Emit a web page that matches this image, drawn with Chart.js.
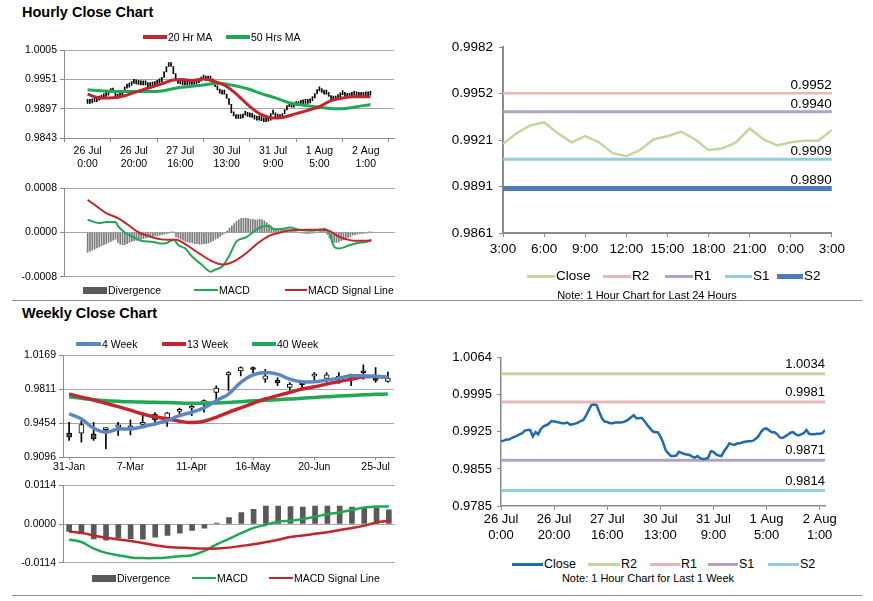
<!DOCTYPE html>
<html>
<head>
<meta charset="utf-8">
<title>Hourly and Weekly Close Charts</title>
<script src="https://cdn.jsdelivr.net/npm/chart.js@4.4.1/dist/chart.umd.min.js"></script>
<style>
  body { margin: 0; background: #fff; }
  #page { position: relative; width: 873px; height: 601px; overflow: hidden; font-family: "Liberation Sans", Arial, sans-serif; color: #000; }
  #page canvas { position: absolute; }
  .title { position: absolute; font-weight: bold; font-size: 14.5px; line-height: 1; }
  .sep { position: absolute; left: 12px; width: 850px; height: 0; border-top: 1.5px solid #8c8c8c; }
  .lg, .note { position: absolute; line-height: 1; white-space: nowrap; }
  .note { transform: translateX(-50%); }
  .sw { position: absolute; }
</style>
</head>
<body>
<div id="page">
  <div class="title" style="left:22px;top:5px">Hourly Close Chart</div>
  <div class="title" style="left:22px;top:306px">Weekly Close Chart</div>
  <div class="sep" style="top:300px"></div>
  <div class="sep" style="top:595px"></div>
</div>
<script>
/**
 * hourly data (26 Jul 0:00 .. 2 Aug 2:00)
 */
const hourTickIndex = [0, 20, 40, 60, 80, 100, 120];
const hourTickDay = ["26 Jul", "26 Jul", "27 Jul", "30 Jul", "31 Jul", "1 Aug", "2 Aug"];
const hourTickTime = ["0:00", "20:00", "16:00", "13:00", "9:00", "5:00", "1:00"];

const hourClose = [
    0.9907, 0.9908, 0.9910, 0.9910, 0.9913, 0.9915, 0.9917, 0.9920, 0.9922, 0.9927,
    0.9928, 0.9928, 0.9916, 0.9924, 0.9920, 0.9930, 0.9935, 0.9937, 0.9940, 0.9945,
    0.9944, 0.9943, 0.9942, 0.9941, 0.9941, 0.9942, 0.9938, 0.9939, 0.9940, 0.9942,
    0.9945, 0.9947, 0.9955, 0.9965, 0.9975, 0.9976, 0.9975, 0.9962, 0.9950, 0.9944,
    0.9943, 0.9941, 0.9941, 0.9942, 0.9942, 0.9942, 0.9943, 0.9945, 0.9948, 0.9952,
    0.9956, 0.9950, 0.9950, 0.9951, 0.9945, 0.9938, 0.9932, 0.9926, 0.9924, 0.9924,
    0.9916, 0.9905, 0.9890, 0.9884, 0.9879, 0.9879, 0.9880, 0.9887, 0.9885, 0.9883,
    0.9882, 0.9881, 0.9878, 0.9876, 0.9879, 0.9875, 0.9873, 0.9874, 0.9876, 0.9888,
    0.9887, 0.9882, 0.9880, 0.9879, 0.9888, 0.9895, 0.9903, 0.9901, 0.9900, 0.9903,
    0.9903, 0.9905, 0.9906, 0.9907, 0.9907, 0.9908, 0.9912, 0.9917, 0.9925, 0.9930,
    0.9931, 0.9927, 0.9924, 0.9924, 0.9920, 0.9914, 0.9913, 0.9916, 0.9919, 0.9923,
    0.9924, 0.9920, 0.9918, 0.9920, 0.9922, 0.9928, 0.9921, 0.9920, 0.9920, 0.9921,
    0.9921, 0.9922, 0.9928
];

// moving averages, read at a few hours each
const ma20Hour = [0, 5, 12, 16, 20, 26, 32, 37, 41, 45, 50, 55, 60, 65, 70, 75, 80, 84, 90, 95, 100, 105, 110, 115, 122];
const ma20 = [0.9924, 0.9917, 0.9918, 0.9921, 0.9927, 0.9935, 0.9943, 0.9950, 0.9951, 0.9949, 0.9952, 0.9947, 0.9938,
    0.9921, 0.9901, 0.9886, 0.9880, 0.9881, 0.9888, 0.9894, 0.9901, 0.9912, 0.9917, 0.9919, 0.9919];
const ma50Hour = [0, 7, 13, 20, 26, 32, 38, 44, 50, 57, 63, 69, 75, 81, 87, 94, 100, 106, 110, 115, 122];
const ma50 = [0.9932, 0.9930, 0.9929, 0.9929, 0.9929, 0.9930, 0.9935, 0.9938, 0.9941, 0.9944, 0.9940, 0.9934, 0.9925,
    0.9917, 0.9908, 0.9903, 0.9900, 0.9897, 0.9897, 0.9900, 0.9905];

// hourly MACD
const macdHour = [0, 5, 8, 12, 13, 16, 20, 23, 28, 32, 34, 37, 39, 42, 45, 49, 53, 55, 58, 61,
    64, 68, 71, 74, 78, 80, 84, 87, 91, 96, 101, 102, 104, 106, 108, 112, 116, 120, 122];
const macdH = [0.00023, 0.00017, 0.00019, 0.00019, 0.00012, 0.0, -0.00009, -0.00015, -0.00017, -0.0002,
    -0.00019, -0.00013, -0.00023, -0.00029, -0.00044, -0.00058, -0.00071, -0.00067, -0.00061, -0.00041,
    -0.00016, -0.00009, 0.0, 0.00009, 0.00012, 0.00006, 0.00007, 0.00009, 0.00005, 0.00003,
    0.00006, 0.00007, -0.00003, -0.00026, -0.00029, -0.00024, -0.00019, -0.00017, -0.00013];
const signalHour = [0, 5, 8, 13, 17, 22, 26, 31, 35, 38, 43, 48, 53, 58, 63, 68, 73, 78, 83, 87, 94, 100, 104, 107, 111, 115, 122];
const signalH = [0.00059, 0.00044, 0.00035, 0.00026, 0.00015, 0.0, -0.00006, -0.00012, -0.00013, -0.00013,
    -0.00024, -0.00038, -0.00051, -0.00058, -0.00052, -0.00038, -0.0002, -0.00006, 0.0, 0.00004,
    0.00005, 0.00005, 0.00003, -0.00005, -0.00012, -0.00015, -0.00015];
const divH = [
    -0.00036, -0.00034, -0.00032, -0.00030, -0.00028, -0.00026, -0.00024, -0.00022, -0.00020, -0.00018,
    -0.00016, -0.00014, -0.00012, -0.00018, -0.00021, -0.00022, -0.00022, -0.00020, -0.00018, -0.00016,
    -0.00015, -0.00014, -0.00013, -0.00012, -0.00011, -0.00010, -0.00009, -0.00008, -0.00007, -0.00006,
    -0.00006, -0.00005, -0.00004, -0.00003, -0.00002, -0.00001, 0.00001, 0.00001, -0.00008, -0.00010,
    -0.00012, -0.00014, -0.00016, -0.00017, -0.00018, -0.00019, -0.00020, -0.00020, -0.00021, -0.00021,
    -0.00020, -0.00020, -0.00019, -0.00017, -0.00015, -0.00012, -0.00010, -0.00007, -0.00004, -0.00001,
    0.00003, 0.00008, 0.00012, 0.00016, 0.00020, 0.00023, 0.00025, 0.00026, 0.00026, 0.00025,
    0.00024, 0.00024, 0.00023, 0.00023, 0.00024, 0.00023, 0.00021, 0.00018, 0.00014, 0.00010,
    0.00008, 0.00007, 0.00006, 0.00007, 0.00007, 0.00006, 0.00005, 0.00004, 0.00003, 0.00002,
    0.00001, 0.00000, -0.00001, -0.00001, -0.00002, -0.00002, -0.00001, -0.00001, 0.00000, 0.00001,
    0.00002, 0.00002, 0.00003, -0.00003, -0.00010, -0.00015, -0.00018, -0.00018, -0.00017, -0.00015,
    -0.00013, -0.00011, -0.00009, -0.00007, -0.00005, -0.00004, -0.00003, -0.00002, -0.00002, -0.00001,
    -0.00001, 0.00001, 0.00001
];

// last 24 hours
const day24Labels = ["3:00", "6:00", "9:00", "12:00", "15:00", "18:00", "21:00", "0:00", "3:00"];
const day24Close = [0.9919, 0.9926, 0.9931, 0.9933, 0.9926, 0.9920, 0.9924, 0.9920, 0.9913, 0.9911,
    0.9915, 0.9922, 0.9924, 0.9927, 0.9922, 0.9915, 0.9916, 0.9920, 0.9929, 0.9922,
    0.9918, 0.9920, 0.9921, 0.9921, 0.9928];

const pivotNames = ["R2", "R1", "S1", "S2"];
const pivotDay = [0.9952, 0.9940, 0.9909, 0.9890];
const pivotWeek = [1.0034, 0.9981, 0.9871, 0.9814];

/**
 * weekly data
 */
const weekLabels = ["31-Jan", "7-Feb", "14-Feb", "21-Feb", "28-Feb", "7-Mar", "14-Mar", "21-Mar", "28-Mar",
    "4-Apr", "11-Apr", "18-Apr", "25-Apr", "2-May", "9-May", "16-May", "23-May", "30-May", "6-Jun",
    "13-Jun", "20-Jun", "27-Jun", "4-Jul", "11-Jul", "18-Jul", "25-Jul", "1-Aug"];
const weekOpen = [0.9348, 0.9348, 0.9341, 0.9384, 0.9411, 0.9397, 0.9440, 0.9550, 0.9509, 0.9578,
    0.9610, 0.9670, 0.9778, 0.9963, 1.0005, 1.0026, 0.9917, 0.9907, 0.9830, 0.9868,
    0.9949, 0.9924, 0.9929, 0.9946, 0.9990, 0.9931, 0.9893];
const weekHigh = [0.9463, 0.9481, 0.9463, 0.9400, 0.9463, 0.9487, 0.9550, 0.9565, 0.9568, 0.9613,
    0.9648, 0.9700, 0.9848, 0.9998, 1.0047, 1.0047, 1.0022, 0.9935, 0.9882, 0.9882,
    0.9987, 0.9987, 0.9987, 0.9970, 1.0068, 1.0040, 0.9991];
const weekLow = [0.9271, 0.9253, 0.9271, 0.9183, 0.9323, 0.9330, 0.9428, 0.9428, 0.9418, 0.9550,
    0.9533, 0.9568, 0.9690, 0.9795, 0.9952, 0.9987, 0.9882, 0.9848, 0.9799, 0.9830,
    0.9882, 0.9882, 0.9872, 0.9848, 0.9917, 0.9882, 0.9886];
const weekClose = [0.9306, 0.9439, 0.9288, 0.9391, 0.9435, 0.9425, 0.9452, 0.9488, 0.9561, 0.9599,
    0.9616, 0.9673, 0.9823, 0.9987, 1.0040, 1.0019, 0.9952, 0.9879, 0.9865, 0.9858,
    0.9956, 0.9963, 0.9936, 0.9953, 0.9983, 0.9903, 0.9928];
const ma4Week = [0.9550, 0.9498, 0.9399, 0.9357, 0.9392, 0.9392, 0.9416, 0.9446, 0.9481, 0.9533,
    0.9568, 0.9614, 0.9690, 0.9760, 0.9883, 0.9963, 0.9987, 0.9970, 0.9917, 0.9889,
    0.9889, 0.9907, 0.9928, 0.9952, 0.9952, 0.9949, 0.9935];
const ma13Week = [0.9760, 0.9728, 0.9697, 0.9662, 0.9627, 0.9590, 0.9550, 0.9520, 0.9498, 0.9474,
    0.9460, 0.9474, 0.9515, 0.9568, 0.9614, 0.9662, 0.9708, 0.9743, 0.9778, 0.9813,
    0.9837, 0.9865, 0.9893, 0.9917, 0.9942, 0.9945, 0.9935];
const ma40Week = [0.9732, 0.9716, 0.9701, 0.9690, 0.9683, 0.9678, 0.9675, 0.9673, 0.9670, 0.9666,
    0.9662, 0.9664, 0.9666, 0.9672, 0.9680, 0.9690, 0.9695, 0.9701, 0.9708, 0.9716,
    0.9725, 0.9732, 0.9739, 0.9746, 0.9753, 0.9757, 0.9760];
const macdW = [-0.00454, -0.00531, -0.00724, -0.0085, -0.00918, -0.00985, -0.01005, -0.01005, -0.00985, -0.00947,
    -0.00918, -0.00792, -0.00599, -0.00435, -0.0027, -0.00116, -0.0002, 0.00068, 0.00097, 0.00145,
    0.00213, 0.0029, 0.00338, 0.00415, 0.00483, 0.00512, 0.00512];
const signalW = [-0.00222, -0.00261, -0.00338, -0.00406, -0.00454, -0.00502, -0.0056, -0.00628, -0.00676, -0.00696,
    -0.00715, -0.00724, -0.00724, -0.00696, -0.00647, -0.00599, -0.00531, -0.00464, -0.00386, -0.00338,
    -0.0029, -0.00241, -0.00174, -0.00116, -0.00048, 0.00048, 0.00097];
const divW = [-0.0022, -0.0029, -0.0044, -0.0048, -0.0041, -0.0043, -0.0045, -0.0039, -0.0034, -0.0027,
    -0.0019, -0.0012, 0.0003, 0.0019, 0.0034, 0.0043, 0.0053, 0.0053, 0.0051, 0.0050,
    0.0053, 0.0053, 0.0053, 0.0050, 0.0048, 0.0048, 0.0042];

// y tick labels per panel
const yTicksHour = ["0.9843", "0.9897", "0.9951", "1.0005"];
const yTicksMacdHour = ["-0.0008", "0.0000", "0.0008"];
const yTicksDay = ["0.9861", "0.9891", "0.9921", "0.9952", "0.9982"];
const yTicksWeek = ["0.9096", "0.9454", "0.9811", "1.0169"];
const yTicksMacdWeek = ["-0.0114", "0.0000", "0.0114"];
const yTicksLastWeek = ["0.9785", "0.9855", "0.9925", "0.9995", "1.0064"];

/**
 * shared setup
 */
const FONT = '"Liberation Sans", Arial, sans-serif';
Chart.defaults.font.family = FONT;
Chart.defaults.color = "#000";
Chart.defaults.animation = false;
Chart.defaults.events = [];
Chart.defaults.plugins.legend.display = false;
Chart.defaults.plugins.tooltip.enabled = false;
Chart.defaults.elements.point.radius = 0;

const RED = "#c0262c";
const GREEN = "#1fa855";
const AXIS = "#8c8c8c";
const GRID = "#a8a8a8";

const page = document.getElementById("page");

// canvas placed so that its chart area lands on plot
function makeCanvas(plot, pad) {
    const c = document.createElement("canvas");
    const w = plot.r - plot.l + pad.yW + pad.right;
    const h = plot.b - plot.t + pad.top + pad.xH;
    c.width = w;
    c.height = h;
    c.style.left = (plot.l - pad.yW) + "px";
    c.style.top = (plot.t - pad.top) + "px";
    c.style.width = w + "px";
    c.style.height = h + "px";
    page.appendChild(c);
    return c;
}

function yAxis(labels, o) {
    const min = parseFloat(labels[0]);
    const max = parseFloat(labels[labels.length - 1]);
    return {
        type: "linear", min: min, max: max,
        afterBuildTicks: s => {
            s.ticks = labels.map((_, i) => ({ value: min + (max - min) * i / (labels.length - 1) }));
        },
        afterFit: s => { s.width = o.width; },
        ticks: { callback: (v, i) => labels[i], font: { size: o.size }, padding: o.pad },
        grid: { drawOnChartArea: o.grid, color: GRID, tickLength: 4, tickColor: AXIS },
        border: { display: true, color: AXIS, width: o.axisWidth || 1 }
    };
}

function hourAxis(o) {
    return {
        type: "linear", min: 0, max: hourClose.length - 1,
        display: o.labels,
        afterBuildTicks: s => { s.ticks = hourTickIndex.map(v => ({ value: v })); },
        afterFit: s => { if (o.height) s.height = o.height; },
        ticks: {
            callback: (v, i) => [hourTickDay[i], hourTickTime[i]],
            autoSkip: false, maxRotation: 0, font: { size: o.size || 10.5 }, padding: o.pad || 3
        },
        grid: { drawOnChartArea: false, tickLength: 4, tickColor: AXIS },
        border: { color: AXIS, width: o.axisWidth || 1 }
    };
}

function weekAxis(o) {
    return {
        type: "category", offset: true,
        display: o.labels,
        afterBuildTicks: s => { s.ticks = s.ticks.filter((t, i) => i % 5 === 0); },
        afterFit: s => { if (o.height) s.height = o.height; },
        ticks: {
            callback: function(v) { return this.getLabelForValue(v); },
            autoSkip: false, maxRotation: 0, font: { size: 10.5 }, padding: 1
        },
        grid: { offset: false, drawOnChartArea: false, tickLength: 3, tickColor: AXIS },
        border: { color: AXIS }
    };
}

function pad(p) {
    return { top: p.top, right: p.right, left: 0, bottom: p.bottomPad || 0 };
}

// legend in html, next to the canvases
function addLegend(chart, y, size, items) {
    items.forEach(it => {
        const ds = chart.data.datasets[it.ds];
        const sw = document.createElement("div");
        sw.className = "sw";
        sw.style.cssText = `left:${it.x}px;top:${y - it.h / 2}px;width:${it.w}px;height:${it.h}px;background:${it.color || ds.borderColor}`;
        page.appendChild(sw);
        const tx = document.createElement("div");
        tx.className = "lg";
        tx.style.cssText = `left:${it.x + it.w + 1}px;top:${y - size / 2}px;font-size:${size}px`;
        tx.textContent = ds.label;
        page.appendChild(tx);
    });
}

function addNote(text, x, y, size) {
    const n = document.createElement("div");
    n.className = "note";
    n.style.cssText = `left:${x}px;top:${y - size / 2}px;font-size:${size}px`;
    n.textContent = text;
    page.appendChild(n);
}

// value labels above the pivot lines
const pivotLabels = {
    id: "pivotLabels",
    afterDatasetsDraw(chart, args, opts) {
        if (!opts.values) return;
        const { ctx, chartArea, scales } = chart;
        ctx.save();
        ctx.font = `${opts.size}px ${FONT}`;
        ctx.fillStyle = "#000";
        ctx.textAlign = "right";
        ctx.textBaseline = "alphabetic";
        opts.values.forEach(v => {
            ctx.fillText(v.toFixed(4), chartArea.right, scales.y.getPixelForValue(v) - opts.gap);
        });
        ctx.restore();
    }
};

function pivotSets(values, colors, widths, lastX) {
    return values.map((v, i) => ({
        type: "line", label: pivotNames[i],
        data: [{ x: 0, y: v }, { x: lastX, y: v }],
        borderColor: colors[i], borderWidth: widths[i], order: 2
    }));
}

/**
 * hourly close (top left)
 */
function initHourChart() {
    const p = { yW: 50, top: 8, right: 14, xH: 34 };
    const canvas = makeCanvas({ l: 64, t: 49, r: 394, b: 138 }, p);
    const chart = new Chart(canvas, {
        type: "line",
        data: {
            datasets: [{
                type: "bar", label: "Close",
                data: hourClose.map((c, i) => ({ x: i, y: [hourClose[Math.max(i - 1, 0)], c] })),
                backgroundColor: "#000", barThickness: 1, minBarLength: 4, grouped: false, order: 3
            }, {
                label: "20 Hr MA",
                data: ma20Hour.map((x, i) => ({ x: x, y: ma20[i] })),
                borderColor: RED, borderWidth: 3, cubicInterpolationMode: "monotone", order: 0
            }, {
                label: "50 Hrs MA",
                data: ma50Hour.map((x, i) => ({ x: x, y: ma50[i] })),
                borderColor: GREEN, borderWidth: 3, cubicInterpolationMode: "monotone", order: 1
            }]
        },
        options: {
            responsive: false,
            layout: { padding: pad(p) },
            scales: {
                x: hourAxis({ labels: true, height: p.xH, size: 10.5, pad: 3 }),
                y: yAxis(yTicksHour, { width: p.yW, size: 10.5, pad: 3, grid: true })
            }
        }
    });
    addLegend(chart, 37, 10.5, [
        { ds: 1, x: 143, w: 24, h: 4 },
        { ds: 2, x: 226, w: 24, h: 4 }
    ]);
}

/**
 * hourly MACD
 */
function initHourMacd() {
    const p = { yW: 50, top: 8, right: 8, xH: 8, bottomPad: 8 };
    const canvas = makeCanvas({ l: 64, t: 187, r: 395, b: 278 }, p);
    const chart = new Chart(canvas, {
        type: "line",
        data: {
            datasets: [{
                type: "bar", label: "Divergence",
                data: divH.map((v, i) => ({ x: i, y: v })),
                backgroundColor: "#7a7a7a", barThickness: 1, grouped: false, order: 3
            }, {
                label: "MACD",
                data: macdHour.map((x, i) => ({ x: x, y: macdH[i] })),
                borderColor: GREEN, borderWidth: 2, cubicInterpolationMode: "monotone", order: 1
            }, {
                label: "MACD Signal Line",
                data: signalHour.map((x, i) => ({ x: x, y: signalH[i] })),
                borderColor: RED, borderWidth: 2, cubicInterpolationMode: "monotone", order: 0
            }]
        },
        options: {
            responsive: false,
            layout: { padding: pad(p) },
            scales: {
                x: hourAxis({ labels: false }),
                y: yAxis(yTicksMacdHour, { width: p.yW, size: 10.5, pad: 3, grid: true })
            }
        }
    });
    addLegend(chart, 290, 10.5, [
        { ds: 0, x: 83, w: 24, h: 7, color: "#595959" },
        { ds: 1, x: 194, w: 24, h: 2 },
        { ds: 2, x: 285, w: 22, h: 2 }
    ]);
}

/**
 * last 24 hours with pivots (top right)
 */
function initDayChart() {
    const p = { yW: 56, top: 10, right: 16, xH: 24 };
    const canvas = makeCanvas({ l: 503, t: 43, r: 833, b: 233 }, p);
    const lastX = day24Close.length - 1;
    const step = lastX / (day24Labels.length - 1);
    const chart = new Chart(canvas, {
        type: "line",
        plugins: [pivotLabels],
        data: {
            datasets: [{
                label: "Close",
                data: day24Close.map((v, i) => ({ x: i, y: v })),
                borderColor: "#c3d69b", borderWidth: 2.5, order: 0
            }].concat(pivotSets(pivotDay, ["#e6b9b8", "#b3a2c7", "#93cddd", "#4a7ebb"], [2.5, 3, 3, 5], lastX))
        },
        options: {
            responsive: false,
            layout: { padding: pad(p) },
            plugins: { pivotLabels: { values: pivotDay, size: 13.5, gap: 4 } },
            scales: {
                x: {
                    type: "linear", min: 0, max: lastX,
                    afterBuildTicks: s => { s.ticks = day24Labels.map((_, i) => ({ value: i * step })); },
                    afterFit: s => { s.height = p.xH; },
                    ticks: { callback: (v, i) => day24Labels[i], autoSkip: false, maxRotation: 0, font: { size: 13.5 }, padding: 4 },
                    grid: { drawOnChartArea: false, tickLength: 4, tickColor: AXIS },
                    border: { color: AXIS, width: 2 }
                },
                y: yAxis(yTicksDay, { width: p.yW, size: 13.5, pad: 6, grid: false, axisWidth: 2 })
            }
        }
    });
    addLegend(chart, 276, 13.5, [
        { ds: 0, x: 527, w: 28, h: 3 },
        { ds: 1, x: 603, w: 28, h: 3 },
        { ds: 2, x: 665, w: 28, h: 3 },
        { ds: 3, x: 725, w: 27, h: 3 },
        { ds: 4, x: 777, w: 26, h: 5 }
    ]);
    addNote("Note: 1 Hour Chart for Last 24 Hours", 647, 295, 11);
}

/**
 * weekly close (bottom left)
 */
function initWeekChart() {
    const p = { yW: 50, top: 8, right: 14, xH: 20 };
    const canvas = makeCanvas({ l: 63, t: 354, r: 394, b: 457 }, p);
    const chart = new Chart(canvas, {
        type: "bar",
        data: {
            labels: weekLabels,
            datasets: [{
                label: "High-Low",
                data: weekLow.map((l, i) => [l, weekHigh[i]]),
                backgroundColor: "#000", barThickness: 1, grouped: false, order: 4
            }, {
                label: "Open-Close",
                data: weekOpen.map((o, i) => [o, weekClose[i]]),
                backgroundColor: weekClose.map((c, i) => c >= weekOpen[i] ? "#fff" : "#4d4d4d"),
                borderColor: "#000", borderWidth: 1, borderSkipped: false,
                barThickness: 5, minBarLength: 2, grouped: false, order: 3
            }, {
                type: "line", label: "4 Week", data: ma4Week,
                borderColor: "#5b87c5", borderWidth: 3.5, tension: 0.4, order: 0
            }, {
                type: "line", label: "13 Week", data: ma13Week,
                borderColor: RED, borderWidth: 3.5, tension: 0.4, order: 1
            }, {
                type: "line", label: "40 Week", data: ma40Week,
                borderColor: GREEN, borderWidth: 3.5, tension: 0.4, order: 2
            }]
        },
        options: {
            responsive: false,
            layout: { padding: pad(p) },
            scales: {
                x: weekAxis({ labels: true, height: p.xH }),
                y: yAxis(yTicksWeek, { width: p.yW, size: 10.5, pad: 3, grid: true })
            }
        }
    });
    addLegend(chart, 344, 10.5, [
        { ds: 2, x: 76, w: 25, h: 4 },
        { ds: 3, x: 162, w: 24, h: 4 },
        { ds: 4, x: 252, w: 24, h: 4 }
    ]);
}

/**
 * weekly MACD
 */
function initWeekMacd() {
    const p = { yW: 50, top: 8, right: 8, xH: 8, bottomPad: 8 };
    const canvas = makeCanvas({ l: 63, t: 484, r: 395, b: 564 }, p);
    const chart = new Chart(canvas, {
        type: "bar",
        data: {
            labels: weekLabels,
            datasets: [{
                label: "Divergence", data: divW,
                backgroundColor: "#595959", barThickness: 5, order: 3
            }, {
                type: "line", label: "MACD", data: macdW,
                borderColor: GREEN, borderWidth: 2.5, tension: 0.4, order: 1
            }, {
                type: "line", label: "MACD Signal Line", data: signalW,
                borderColor: RED, borderWidth: 2.5, tension: 0.4, order: 0
            }]
        },
        options: {
            responsive: false,
            layout: { padding: pad(p) },
            scales: {
                x: weekAxis({ labels: false }),
                y: yAxis(yTicksMacdWeek, { width: p.yW, size: 10.5, pad: 3, grid: true })
            }
        }
    });
    addLegend(chart, 578, 10.5, [
        { ds: 0, x: 92, w: 24, h: 7, color: "#595959" },
        { ds: 1, x: 192, w: 24, h: 2.5 },
        { ds: 2, x: 269, w: 24, h: 2.5 }
    ]);
}

/**
 * last week hourly with pivots (bottom right)
 */
function initLastWeekChart() {
    const p = { yW: 56, top: 10, right: 20, xH: 36 };
    const canvas = makeCanvas({ l: 501, t: 355, r: 825, b: 506 }, p);
    const lastX = hourClose.length - 1;
    const chart = new Chart(canvas, {
        type: "line",
        plugins: [pivotLabels],
        data: {
            datasets: [{
                label: "Close",
                data: hourClose.map((v, i) => ({ x: i, y: v })),
                borderColor: "#1f6bb0", borderWidth: 2.5, order: 0
            }].concat(pivotSets(pivotWeek, ["#c3d69b", "#e6b9b8", "#b3a2c7", "#93cddd"], [3, 3, 3, 3], lastX))
        },
        options: {
            responsive: false,
            layout: { padding: pad(p) },
            plugins: { pivotLabels: { values: pivotWeek, size: 13, gap: 6 } },
            scales: {
                x: hourAxis({ labels: true, height: p.xH, size: 13, pad: 2, axisWidth: 1.5 }),
                y: yAxis(yTicksLastWeek, { width: p.yW, size: 13, pad: 5, grid: false, axisWidth: 1.5 })
            }
        }
    });
    addLegend(chart, 564, 12.5, [
        { ds: 0, x: 512, w: 31, h: 3 },
        { ds: 1, x: 588, w: 32, h: 3 },
        { ds: 2, x: 650, w: 30, h: 3 },
        { ds: 3, x: 708, w: 30, h: 3 },
        { ds: 4, x: 768, w: 31, h: 3 }
    ]);
    addNote("Note: 1 Hour Chart for Last 1 Week", 648, 578, 11);
}

initHourChart();
initHourMacd();
initDayChart();
initWeekChart();
initWeekMacd();
initLastWeekChart();
</script>
</body>
</html>
